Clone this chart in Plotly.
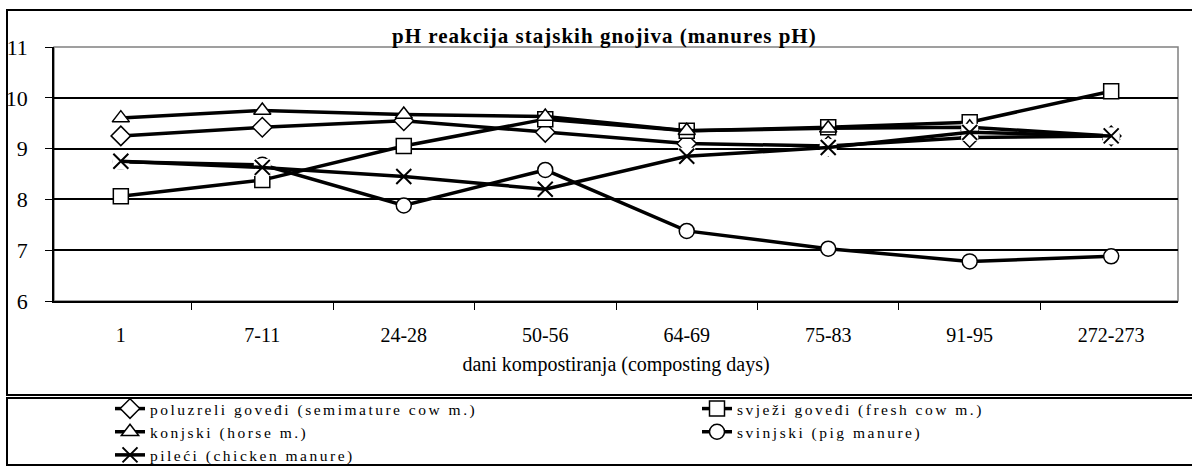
import plotly.graph_objects as go

categories = ["1", "7-11", "24-28", "50-56", "64-69", "75-83", "91-95", "272-273"]
semimature = [9.25, 9.42, 9.55, 9.32, 9.10, 9.05, 9.22, 9.25]
fresh = [8.06, 8.38, 9.05, 9.58, 9.35, 9.42, 9.52, 10.13]
horse = [9.60, 9.75, 9.67, 9.63, 9.35, 9.40, 9.42, 9.25]
pig = [8.74, 8.68, 7.88, 8.58, 7.38, 7.03, 6.78, 6.88]
chicken = [8.75, 8.63, 8.45, 8.20, 8.85, 9.02, 9.32, 9.25]

names = [
    "poluzreli goveđi (semimature cow m.)",
    "svježi goveđi (fresh cow m.)",
    "konjski (horse m.)",
    "svinjski (pig manure)",
    "pileći (chicken manure)",
]
series = [semimature, fresh, horse, pig, chicken]
symbols = ["diamond", "square", "triangle-up", "circle", "x-thin"]
legend_of = ["legend", "legend2", "legend", "legend2", "legend"]

W, H = 1192, 467
L, R, T, B = 54, 14, 47, 166
pw, ph = W - L - R, H - T - B

def px(x):
    return (x - L) / pw

def py(y):
    return (H - B - y) / ph

FONT = "Liberation Serif"
SPACED = '<span style="letter-spacing:2.5px">{}</span>'

fig = go.Figure()
for name, vals, sym, lg in zip(names, series, symbols, legend_of):
    if sym == "x-thin":
        # white backing box behind the X markers
        fig.add_trace(go.Scatter(
            x=categories, y=vals, mode="markers", showlegend=False, hoverinfo="skip",
            marker=dict(symbol="square", size=17, color="white", line=dict(width=0)),
        ))
        marker = dict(symbol=sym, size=15, color="black", line=dict(color="black", width=2))
    else:
        marker = dict(symbol=sym, size=15, color="white", line=dict(color="black", width=1.5))
    fig.add_trace(go.Scatter(
        x=categories, y=vals, name=SPACED.format(name), mode="lines+markers", legend=lg,
        line=dict(color="black", width=3.5), marker=marker,
    ))

shapes = [
    dict(type="rect", xref="paper", yref="paper", x0=px(7), x1=px(1196), y0=py(395), y1=py(10),
         line=dict(color="black", width=2), layer="below"),
    dict(type="rect", xref="paper", yref="paper", x0=px(7), x1=px(1196), y0=py(465), y1=py(398),
         line=dict(color="black", width=2), layer="below"),
    dict(type="rect", xref="paper", yref="paper", x0=0, x1=1, y0=0, y1=1,
         line=dict(color="#808080", width=1.5), layer="below"),
]

legend_common = dict(
    orientation="v", xanchor="left", yanchor="top",
    font=dict(family=FONT, size=15.5), bgcolor="rgba(0,0,0,0)", tracegroupgap=0,
)

fig.update_layout(
    width=W, height=H,
    margin=dict(l=L, r=R, t=T, b=B, autoexpand=False),
    paper_bgcolor="white", plot_bgcolor="white",
    font=dict(family=FONT, color="black", size=20),
    shapes=shapes,
    annotations=[
        dict(text='<b><span style="letter-spacing:1px">pH reakcija stajskih gnojiva (manures pH)</span></b>',
             xref="paper", yref="paper", x=px(604), y=py(36), xanchor="center", yanchor="middle",
             showarrow=False, font=dict(family=FONT, size=21)),
    ],
    xaxis=dict(
        type="category", showline=True, linecolor="black", linewidth=1.5,
        ticks="outside", tickson="boundaries", ticklen=7, tickcolor="black",
        showgrid=False, tickfont=dict(size=20), ticklabelstandoff=15,
        title=dict(text="dani kompostiranja (composting days)", font=dict(size=20), standoff=12),
    ),
    yaxis=dict(
        range=[6, 11], tickvals=[6, 7, 8, 9, 10, 11], showline=True, linecolor="black", linewidth=1.5,
        ticks="outside", ticklen=7, tickcolor="black", showgrid=True, gridcolor="black", gridwidth=1.5,
        tickfont=dict(size=22), zeroline=False, ticklabelstandoff=13,
    ),
    legend=dict(x=px(110), y=py(392), **legend_common),
    legend2=dict(x=px(697), y=py(392), **legend_common),
)

fig.write_html(
    "out.html",
    config={"displayModeBar": False},
    post_script="document.body.style.margin='0';document.documentElement.style.margin='0';",
)
